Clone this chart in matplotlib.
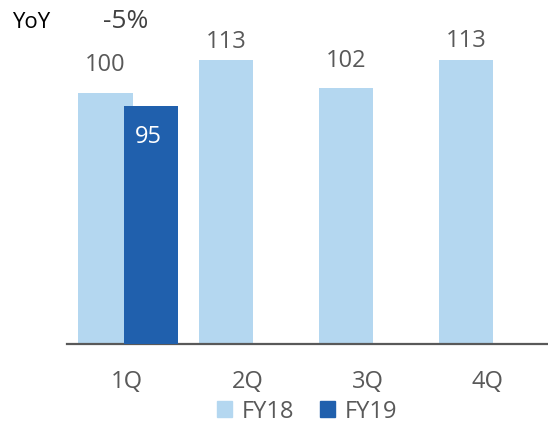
import matplotlib
matplotlib.use("Agg")
import matplotlib.pyplot as plt
from matplotlib.patches import Patch
import numpy as np

# Quarterly index values
quarters = ["1Q", "2Q", "3Q", "4Q"]
fy18 = [100, 113, 102, 113]
fy19 = [95]
series_names = ["FY18", "FY19"]
yoy_label = "YoY"
yoy_value = "-5%"

light = "#B4D7F0"
dark = "#2060AD"
text_gray = "#595959"

plt.rcParams["font.family"] = ["Open Sans", "DejaVu Sans"]

W, H = 548, 427
fig = plt.figure(figsize=(W / 100, H / 100), dpi=100)
ax = fig.add_axes([67 / W, (H - 345) / H, 481 / W, 345 / H])

x = np.arange(len(quarters))
bw = 0.45
b18 = ax.bar(x - 0.18, fy18, width=bw, color=light, zorder=2)
b19 = ax.bar(x[:len(fy19)] + 0.195, fy19, width=bw, color=dark, zorder=3)

ax.set_xlim(-0.5, 3.5)
ax.set_ylim(0, 137.5)

# value labels above FY18 bars
label_offsets = [21, 14, 20, 15]
for rect, v, off in zip(b18, fy18, label_offsets):
    ax.annotate(f"{v}", (rect.get_x() + rect.get_width() / 2, v),
                xytext=(0, off), textcoords="offset points",
                ha="center", va="center", fontsize=17, color=text_gray)

# value label inside FY19 bar
for rect, v in zip(b19, fy19):
    ax.annotate(f"{v}", (rect.get_x() + rect.get_width() / 2 - 0.02, v),
                xytext=(0, -22), textcoords="offset points",
                ha="center", va="center", fontsize=17, color="white")

for s in ["top", "right", "left"]:
    ax.spines[s].set_visible(False)
ax.spines["bottom"].set_color(text_gray)
ax.spines["bottom"].set_linewidth(1.6)
ax.set_yticks([])
ax.set_xticks(x)
ax.set_xticklabels(quarters, fontsize=17, color=text_gray)
ax.tick_params(axis="x", length=0, pad=18)

fig.text(31 / W, 1 - 22 / H, yoy_label, ha="center", va="center",
         fontsize=16, color="black")
fig.text(126 / W, 1 - 22 / H, yoy_value, ha="center", va="center",
         fontsize=19, color="#404040")

handles = [Patch(color=light), Patch(color=dark)]
fig.legend(handles, series_names, loc="center", bbox_to_anchor=(307 / W, 15 / H),
           ncol=2, frameon=False, fontsize=17, labelcolor=text_gray,
           handlelength=0.65, handleheight=0.65, handletextpad=0.4,
           columnspacing=1.1, borderpad=0)

fig.savefig("out.png", dpi=100)
